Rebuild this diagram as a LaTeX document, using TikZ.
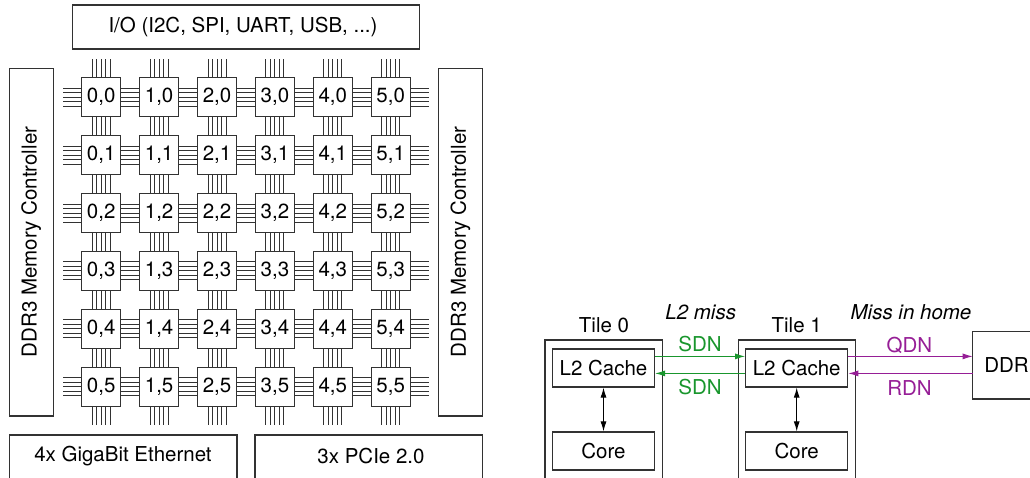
\documentclass[tikz,border=0pt]{standalone}
\usepackage{fontspec}
\setmainfont{TeX Gyre Heros}
\usetikzlibrary{arrows.meta}
\definecolor{sdngreen}{RGB}{25,150,45}
\definecolor{qdnpurple}{RGB}{150,30,150}
\definecolor{edge}{RGB}{50,50,50}
\tikzset{
  box/.style={draw=edge, line width=1.2pt},
  unit/.style={box, fill=white, minimum width=102pt, minimum height=38pt, inner sep=0pt},
  tile/.style={box, fill=white, minimum size=39pt, inner sep=0pt},
  link/.style={draw=edge, line width=0.85pt},
  tip/.style={-{Latex[length=10pt,width=6pt]}},
  sdn/.style={tip, draw=sdngreen, line width=1pt},
  qdn/.style={tip, draw=qdnpurple, line width=1pt},
}
\begin{document}
\begin{tikzpicture}[x=1pt, y=-1pt, font=\fontsize{20.5}{24}\selectfont]
\clip (0,0) rectangle (1030,478);

% mesh links
\foreach \j in {0,...,5}
  \foreach \k in {-9,-4.5,0,4.5,9}
    \draw[link] (63,{97.2+57.9*\j+\k}) -- (429,{97.2+57.9*\j+\k});
\foreach \i in {0,...,5}
  \foreach \k in {-9,-4.5,0,4.5,9}
    \draw[link] ({101.2+57.9*\i+\k},59.3) -- ({101.2+57.9*\i+\k},425);

% tiles
\foreach \i in {0,...,5}
  \foreach \j in {0,...,5}
    \node[tile] (t\i\j) at ({101.2+57.9*\i},{97.2+57.9*\j}) {\i,\j};

% periphery
\draw[box] (72.3,5) rectangle (419.5,49);
\node (io) at (243,27) {I/O (I2C, SPI, UART, USB, ...)};
\draw[box] (9.3,68.3) rectangle (53.3,416);
\node[rotate=90] (ddrl) at (31.3,242) {DDR3 Memory Controller};
\draw[box] (438.7,68.3) rectangle (482.3,416);
\node[rotate=90] (ddrr) at (460.5,242) {DDR3 Memory Controller};
\draw[box] (9.3,435) rectangle (237,490);
\node (eth) at (123,456.5) {4x GigaBit Ethernet};
\draw[box] (255,435) rectangle (482.3,490);
\node (pcie) at (371,456.5) {3x PCIe 2.0};

% tile 0 and tile 1
\draw[box] (545,340) rectangle (662.5,490);
\node (lbla) at (604,325) {Tile 0};
\node[unit] (l2a) at (603.5,368) {L2 Cache};
\node[unit] (corea) at (603.5,451) {Core};
\draw[box] (738.3,340) rectangle (855.7,490);
\node (lblb) at (796.7,325) {Tile 1};
\node[unit] (l2b) at (796.7,368) {L2 Cache};
\node[unit] (coreb) at (796.7,451) {Core};
\draw[box] (972.7,331.7) rectangle (1050,399);
\node (ddr) at (1006.5,365.3) {DDR};
\coordinate (ddrw) at (972.7,365.3);

\draw[{Latex[length=10pt,width=6pt]}-{Latex[length=10pt,width=6pt]}, line width=1pt] (l2a) -- (corea);
\draw[{Latex[length=10pt,width=6pt]}-{Latex[length=10pt,width=6pt]}, line width=1pt] (l2b) -- (coreb);

% requests and responses
\draw[sdn] ([yshift=11.6pt]l2a.east) -- ([yshift=11.6pt]l2b.west);
\draw[sdn] ([yshift=-5.4pt]l2b.west) -- ([yshift=-5.4pt]l2a.east);
\draw[qdn] ([yshift=11.6pt]l2b.east) -- ([yshift=11.6pt]l2b.east -| ddrw);
\draw[qdn] ([yshift=-5.4pt]l2b.east -| ddrw) -- ([yshift=-5.4pt]l2b.east);
\node[sdngreen] (sdnu) at (700,344.5) {SDN};
\node[sdngreen] (sdnd) at (700,387) {SDN};
\node[qdnpurple] (qdnl) at (909.5,345) {QDN};
\node[qdnpurple] (rdnl) at (909.5,388) {RDN};
\node[font=\fontsize{20.5}{24}\selectfont\itshape] (miss) at (700.7,311.7) {L2 miss};
\node[font=\fontsize{20.5}{24}\selectfont\itshape] (home) at (911,312) {Miss in home};
\end{tikzpicture}
\end{document}
